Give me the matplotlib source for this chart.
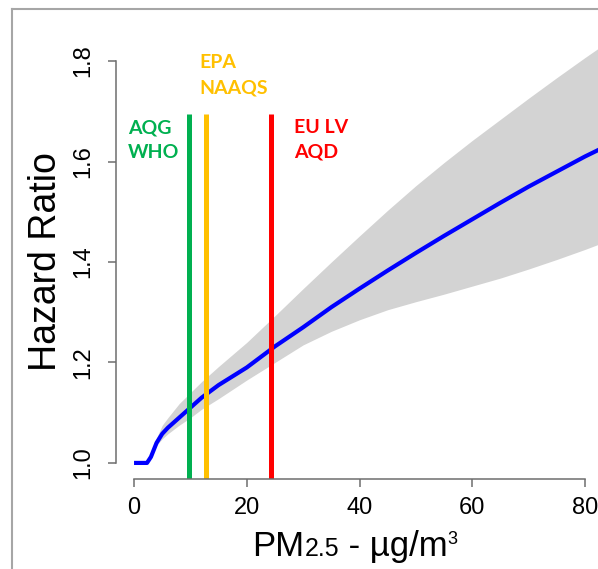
"""
Hazard ratio vs PM2.5 concentration with air quality limit values.
"""

import matplotlib
matplotlib.use("Agg")
import matplotlib.pyplot as plt
from matplotlib.lines import Line2D

plt.rcParams["font.family"] = ["Liberation Sans", "DejaVu Sans"]

# central estimate
pm_x = [0, 2.3, 3, 4, 5, 6, 8, 10, 12, 15, 20, 25, 30, 35, 40, 45, 50,
        55, 60, 65, 70, 75, 80, 84]
hr = [1.0, 1.0, 1.012, 1.04, 1.058, 1.07, 1.09, 1.11, 1.13, 1.155, 1.19,
      1.232, 1.27, 1.31, 1.347, 1.383, 1.418, 1.452, 1.485, 1.518, 1.55,
      1.58, 1.61, 1.632]

# confidence band
band_x = [3, 4, 5, 6, 8, 10, 12, 15, 20, 25, 30, 35, 40, 45, 50, 55, 60,
          65, 70, 75, 80, 84]
band_hi = [1.012, 1.05, 1.075, 1.09, 1.118, 1.14, 1.162, 1.192, 1.24,
           1.293, 1.347, 1.40, 1.452, 1.503, 1.552, 1.598, 1.642, 1.684,
           1.726, 1.767, 1.807, 1.838]
band_lo = [1.012, 1.035, 1.048, 1.058, 1.075, 1.09, 1.107, 1.128, 1.165,
           1.2, 1.235, 1.262, 1.285, 1.305, 1.321, 1.336, 1.352, 1.368,
           1.386, 1.405, 1.425, 1.442]

# limit values
limit_x = [9.8, 12.8, 24.3]
limit_top = 1.695
limit_colors = ["#00B050", "#FFC000", "#FF0000"]
limit_labels = [("AQG", "WHO"), ("EPA", "NAAQS"), ("EU LV", "AQD")]
# label positions in pixels (left, baseline of first line)
label_pos = [(128, 133), (199, 68), (294, 133)]

W, H = 598, 569


def main():
    fig = plt.figure(figsize=(W / 100, H / 100), dpi=100)
    ax = fig.add_axes([116 / W, 90 / H, 487 / W, 434 / H])

    ax.fill_between(band_x, band_lo, band_hi, color="#d3d3d3", lw=0)
    ax.plot(pm_x, hr, color="#0000FF", lw=3, solid_capstyle="butt")
    ax.vlines(limit_x, 0.968, limit_top, colors=limit_colors, lw=3.6)

    ax.set_xlim(-3.2, 83.2)
    ax.set_ylim(0.968, 1.832)
    ax.set_xticks([0, 20, 40, 60, 80])
    ax.set_yticks([1.0, 1.2, 1.4, 1.6, 1.8])
    ax.set_yticklabels(["1.0", "1.2", "1.4", "1.6", "1.8"])

    for side in ["top", "right"]:
        ax.spines[side].set_visible(False)
    ax.spines["left"].set_bounds(1.0, 1.8)
    ax.spines["bottom"].set_bounds(0, 80)
    for side in ["left", "bottom"]:
        ax.spines[side].set_color("#6e6e6e")
        ax.spines[side].set_linewidth(1.1)

    ax.tick_params(axis="both", length=6, width=1.1, color="#6e6e6e",
                   labelsize=17, labelcolor="#000000")
    ax.tick_params(axis="x", pad=7)
    ax.tick_params(axis="y", pad=10, labelrotation=90)
    for lab in ax.get_yticklabels():
        lab.set_va("center")

    fig.text(46 / W, 1 - 262 / H, "Hazard Ratio", rotation=90,
             ha="center", va="center", fontsize=27, color="#000000")

    # x label: PM2.5 - ug/m3 built from pieces
    fig.canvas.draw()
    r = fig.canvas.get_renderer()
    pieces = [("PM", 25, 0), ("2.5", 18, 0), (" - \u00b5g/m", 25, 0),
              ("3", 13, 12)]
    texts = []
    for s, size, dy in pieces:
        t = fig.text(0, (H - 556 + dy) / H, s, fontsize=size,
                     ha="left", va="baseline", color="#000000")
        texts.append(t)
    widths = [t.get_window_extent(r).width for t in texts]
    x0 = 355 - sum(widths) / 2
    for t, w in zip(texts, widths):
        t.set_x(x0 / W)
        x0 += w

    for (l1, l2), (px, py), c in zip(limit_labels, label_pos, limit_colors):
        fig.text(px / W, 1 - py / H, l1, color=c, fontsize=14,
                 fontfamily="Lato", fontweight="bold", va="baseline")
        fig.text(px / W, 1 - (py + 25) / H, l2, color=c, fontsize=14,
                 fontfamily="Lato", fontweight="bold", va="baseline")

    # outer frame
    fig.add_artist(Line2D([12 / W, 12 / W], [0, 1 - 9 / H],
                          color="#a6a6a6", lw=1.5))
    fig.add_artist(Line2D([12 / W, 1], [1 - 9 / H, 1 - 9 / H],
                          color="#a6a6a6", lw=1.5))

    fig.savefig("out.png", dpi=100)


if __name__ == "__main__":
    main()
